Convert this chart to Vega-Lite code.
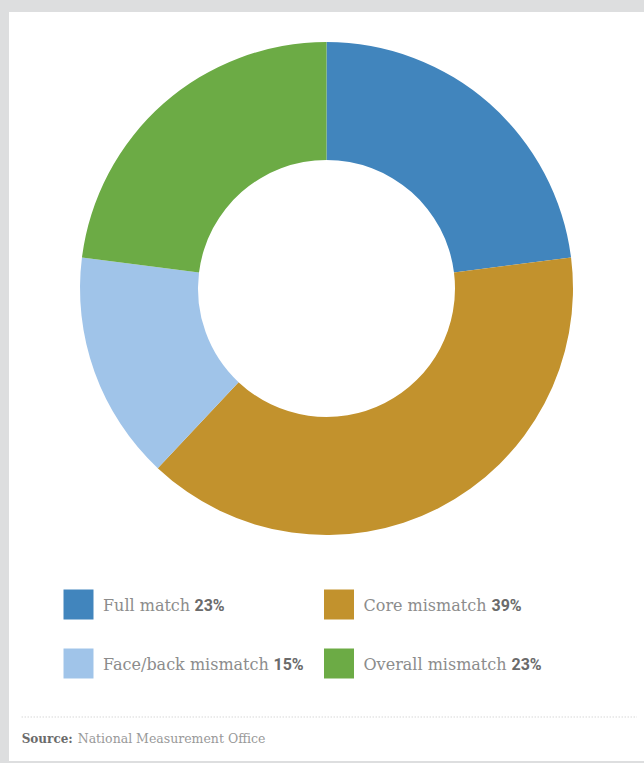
{
  "$schema": "https://vega.github.io/schema/vega-lite/v6.json",
  "background": "#dddedf",
  "padding": {"left": 9, "top": 12, "right": 0, "bottom": 2},
  "autosize": {"type": "pad"},
  "spacing": 0,
  "config": {"view": {"stroke": null, "fill": "#ffffff"}, "concat": {"spacing": 0}},
  "datasets": {
    "shares": [
      {"category": "Full match", "share": 0.23, "rank": 1, "legendCol": "left", "legendRow": "top"},
      {"category": "Core mismatch", "share": 0.39, "rank": 2, "legendCol": "right", "legendRow": "top"},
      {"category": "Face/back mismatch", "share": 0.15, "rank": 3, "legendCol": "left", "legendRow": "bottom"},
      {"category": "Overall mismatch", "share": 0.23, "rank": 4, "legendCol": "right", "legendRow": "bottom"}
    ],
    "source": [{"label": "Source:", "text": "National Measurement Office"}]
  },
  "vconcat": [
    {
      "width": 635,
      "height": 553,
      "view": {"fill": "#ffffff", "stroke": null},
      "data": {"name": "shares"},
      "layer": [
        {
          "mark": {"type": "rect", "color": "#ffffff"},
          "encoding": {}
        },
        {
          "mark": {"type": "arc", "radius": 246.5, "radius2": 128.5},
          "encoding": {
            "theta": {"field": "share", "type": "quantitative", "stack": true},
            "order": {"field": "rank", "type": "quantitative"},
            "color": {
              "field": "category", "type": "nominal",
              "scale": {"domain": ["Full match", "Core mismatch", "Face/back mismatch", "Overall mismatch"],
                        "range": ["#4185bd", "#c2922d", "#a0c4e9", "#6cab45"]},
              "legend": null
            }
          }
        }
      ]
    },
    {
      "width": 635,
      "height": 130,
      "data": {"name": "shares"},
      "encoding": {
        "x": {"field": "legendCol", "type": "nominal", "axis": null,
              "scale": {"type": "point", "domain": ["left", "right"], "range": [69.5, 330], "padding": 0}},
        "y": {"field": "legendRow", "type": "nominal", "axis": null,
              "scale": {"type": "point", "domain": ["top", "bottom"], "range": [39.5, 98.5], "padding": 0}}
      },
      "layer": [
        {
          "mark": {"type": "square", "size": 900, "filled": true, "opacity": 1},
          "encoding": {
            "color": {
              "field": "category", "type": "nominal",
              "scale": {"domain": ["Full match", "Core mismatch", "Face/back mismatch", "Overall mismatch"],
                        "range": ["#4185bd", "#c2922d", "#a0c4e9", "#6cab45"]},
              "legend": null
            }
          }
        },
        {
          "mark": {"type": "text", "align": "left", "baseline": "middle", "dx": 24.5, "dy": 1,
                   "font": "DejaVu Serif", "fontSize": 16, "color": "#8c8c8c"},
          "encoding": {"text": {"field": "category", "type": "nominal"}}
        },
        {
          "transform": [{"filter": "datum.category === 'Full match'"}],
          "mark": {"type": "text", "align": "left", "baseline": "middle", "dx": 116, "dy": 1,
                   "font": "Roboto", "fontWeight": "bold", "fontSize": 16, "color": "#6b6b6b"},
          "encoding": {"text": {"field": "share", "type": "quantitative", "format": ".0%"}}
        },
        {
          "transform": [{"filter": "datum.category === 'Core mismatch'"}],
          "mark": {"type": "text", "align": "left", "baseline": "middle", "dx": 152.5, "dy": 1,
                   "font": "Roboto", "fontWeight": "bold", "fontSize": 16, "color": "#6b6b6b"},
          "encoding": {"text": {"field": "share", "type": "quantitative", "format": ".0%"}}
        },
        {
          "transform": [{"filter": "datum.category === 'Face/back mismatch'"}],
          "mark": {"type": "text", "align": "left", "baseline": "middle", "dx": 195, "dy": 1,
                   "font": "Roboto", "fontWeight": "bold", "fontSize": 16, "color": "#6b6b6b"},
          "encoding": {"text": {"field": "share", "type": "quantitative", "format": ".0%"}}
        },
        {
          "transform": [{"filter": "datum.category === 'Overall mismatch'"}],
          "mark": {"type": "text", "align": "left", "baseline": "middle", "dx": 172.5, "dy": 1,
                   "font": "Roboto", "fontWeight": "bold", "fontSize": 16, "color": "#6b6b6b"},
          "encoding": {"text": {"field": "share", "type": "quantitative", "format": ".0%"}}
        }
      ]
    },
    {
      "width": 635,
      "height": 66,
      "data": {"name": "source"},
      "layer": [
        {
          "mark": {"type": "rule", "color": "#c4c4c4", "strokeWidth": 1, "strokeDash": [1, 2]},
          "encoding": {
            "x": {"datum": 2, "type": "quantitative", "scale": {"domain": [0, 100]}, "axis": null},
            "x2": {"datum": 98.9},
            "y": {"datum": 1, "type": "quantitative", "scale": {"domain": [0, 3], "reverse": true}, "axis": null}
          }
        },
        {
          "mark": {"type": "text", "align": "left", "baseline": "middle", "font": "DejaVu Serif",
                   "fontWeight": "bold", "fontSize": 12, "color": "#6b6b6b"},
          "encoding": {
            "x": {"datum": 2, "type": "quantitative", "scale": {"domain": [0, 100]}, "axis": null},
            "y": {"datum": 2, "type": "quantitative", "scale": {"domain": [0, 3], "reverse": true}, "axis": null},
            "text": {"field": "label", "type": "nominal"}
          }
        },
        {
          "mark": {"type": "text", "align": "left", "baseline": "middle", "dx": 56, "font": "DejaVu Serif",
                   "fontSize": 12.5, "color": "#999999"},
          "encoding": {
            "x": {"datum": 2, "type": "quantitative", "scale": {"domain": [0, 100]}, "axis": null},
            "y": {"datum": 2, "type": "quantitative", "scale": {"domain": [0, 3], "reverse": true}, "axis": null},
            "text": {"field": "text", "type": "nominal"}
          }
        }
      ]
    }
  ]
}
